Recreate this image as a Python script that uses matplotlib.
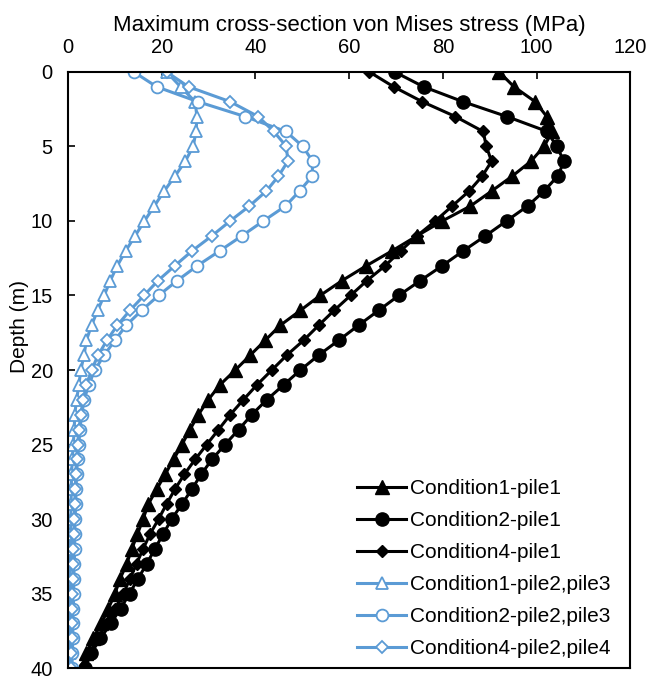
import numpy as np
import matplotlib
matplotlib.use("Agg")
import matplotlib.pyplot as plt

plt.rcParams['font.family'] = ['Liberation Sans', 'DejaVu Sans']

depth = np.arange(0, 41)

# Maximum cross-section von Mises stress (MPa), depth 0..40 m
c1_pile1 = [92.0, 95.2, 99.7, 102.2, 103.4, 101.6, 98.8, 94.8, 90.4, 85.9,
            79.9, 74.5, 69.2, 63.7, 58.5, 53.8, 49.6, 45.3, 42.1, 38.9,
            35.7, 32.4, 29.9, 27.8, 26.0, 24.3, 22.5, 20.7, 18.9, 17.1,
            16.0, 14.8, 13.6, 12.5, 11.1, 10.0, 8.6, 7.1, 5.3, 3.9, 2.9]
c2_pile1 = [69.7, 75.9, 84.3, 93.7, 102.3, 104.3, 105.9, 104.5, 101.6, 98.1,
            93.6, 89.1, 84.4, 79.9, 75.2, 70.6, 66.3, 62.0, 57.8, 53.5,
            49.6, 46.0, 42.4, 39.2, 36.4, 33.5, 30.7, 28.4, 26.4, 24.3,
            22.1, 20.3, 18.5, 16.8, 14.9, 13.1, 11.2, 9.1, 6.9, 4.9, 3.6]
c4_pile1 = [64.3, 69.5, 75.6, 82.7, 88.6, 89.3, 90.4, 88.4, 85.6, 82.0,
            78.4, 74.5, 71.0, 67.7, 63.8, 60.3, 56.8, 53.5, 50.3, 46.7,
            43.5, 40.3, 37.4, 34.6, 32.1, 29.6, 27.1, 24.8, 22.8, 21.0,
            19.3, 17.5, 16.0, 14.6, 13.2, 11.8, 10.0, 8.2, 6.4, 4.6, 3.2]
c1_pile23 = [21.0, 24.0, 27.1, 27.5, 27.3, 26.7, 25.0, 22.8, 20.5, 18.4,
             16.3, 14.3, 12.3, 10.5, 9.0, 7.7, 6.3, 5.0, 3.9, 3.4,
             2.7, 2.3, 1.8, 1.4, 1.3, 1.1, 0.9, 0.7, 0.7, 0.6,
             0.6, 0.5, 0.5, 0.5, 0.4, 0.4, 0.4, 0.3, 0.3, 0.3, 0.3]
c2_pile23 = [14.0, 18.9, 27.7, 37.8, 46.5, 50.1, 52.2, 52.1, 49.4, 46.4,
             41.7, 37.1, 32.4, 27.6, 23.3, 19.3, 15.7, 12.4, 10.0, 7.7,
             5.7, 4.4, 3.4, 2.9, 2.5, 2.3, 2.0, 1.8, 1.7, 1.6,
             1.5, 1.4, 1.4, 1.3, 1.2, 1.2, 1.1, 1.0, 1.0, 0.9, 0.8]
c4_pile24 = [21.0, 25.7, 34.6, 40.6, 43.9, 46.6, 46.9, 44.9, 42.3, 38.7,
             34.6, 30.7, 26.5, 22.8, 19.2, 16.2, 13.2, 10.5, 8.3, 6.4,
             5.0, 3.9, 3.2, 2.7, 2.3, 2.0, 1.8, 1.6, 1.5, 1.4,
             1.3, 1.2, 1.1, 1.1, 1.0, 0.9, 0.9, 0.8, 0.8, 0.7, 0.6]

labels = ["Condition1-pile1", "Condition2-pile1", "Condition4-pile1",
          "Condition1-pile2,pile3", "Condition2-pile2,pile3", "Condition4-pile2,pile4"]

blue = "#5B9BD5"

fig = plt.figure(figsize=(6.49, 6.78), dpi=100)
ax = fig.add_axes([0.105, 0.0145, 0.866, 0.8795])

ax.plot(c1_pile1, depth, color='black', lw=2.2, marker='^', ms=10, label=labels[0])
ax.plot(c2_pile1, depth, color='black', lw=2.2, marker='o', ms=9.5, label=labels[1])
ax.plot(c4_pile1, depth, color='black', lw=2.2, marker='D', ms=6.5, label=labels[2])
ax.plot(c1_pile23, depth, color=blue, lw=2.2, marker='^', ms=8.5, mfc='white',
        mec=blue, mew=1.3, label=labels[3])
ax.plot(c2_pile23, depth, color=blue, lw=2.2, marker='o', ms=8.5, mfc='white',
        mec=blue, mew=1.3, label=labels[4])
ax.plot(c4_pile24, depth, color=blue, lw=2.2, marker='D', ms=6.5, mfc='white',
        mec=blue, mew=1.3, label=labels[5])

ax.set_xlim(0, 120)
ax.set_ylim(40, 0)
ax.set_xticks(np.arange(0, 121, 20))
ax.set_yticks(np.arange(0, 41, 5))
ax.xaxis.tick_top()
ax.xaxis.set_label_position('top')
ax.set_xlabel('Maximum cross-section von Mises stress (MPa)', fontsize=16, labelpad=5)
ax.set_ylabel('Depth (m)', fontsize=15)
ax.yaxis.set_label_coords(-0.07, 0.573)
ax.tick_params(axis='both', direction='in', length=5, width=1.2, labelsize=14.5)
ax.tick_params(axis='x', pad=11)
ax.tick_params(axis='y', pad=11)
for s in ax.spines.values():
    s.set_linewidth(1.5)

ax.legend(loc='lower right', bbox_to_anchor=(0.979, 0.003), borderaxespad=0,
          frameon=False, fontsize=15, handlelength=2.35,
          labelspacing=0.62, handletextpad=0.15)

plt.savefig("out.png", dpi=100)
plt.close()
